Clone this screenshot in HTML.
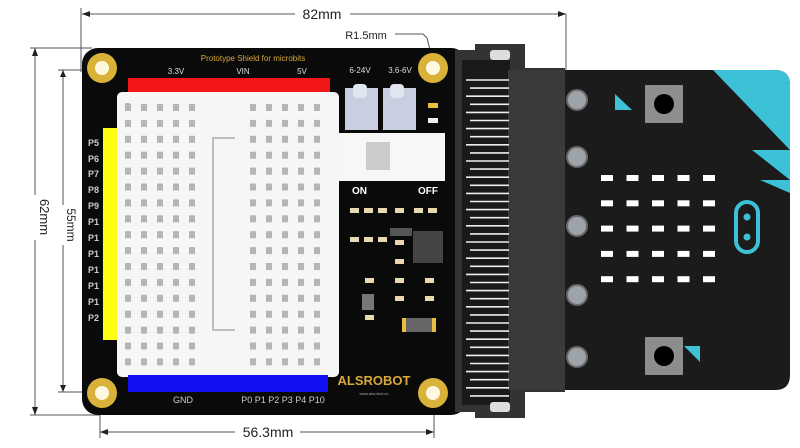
<!DOCTYPE html>
<html><head><meta charset="utf-8"><style>
html,body{margin:0;padding:0;background:#fff;}
svg{display:block;}
text{font-family:"Liberation Sans",sans-serif;}
</style></head><body>
<svg width="800" height="448" viewBox="0 0 800 448" xmlns="http://www.w3.org/2000/svg">
<!-- dimension lines -->
<g stroke="#555" stroke-width="1" fill="none">
<line x1="82" y1="14" x2="295" y2="14"/><line x1="350" y1="14" x2="566" y2="14"/>
<line x1="81" y1="8" x2="81" y2="72"/><line x1="566" y1="14" x2="566" y2="70"/>
<line x1="395" y1="34" x2="423" y2="34"/><polyline points="423,34 427,38 433,62"/>
<line x1="30" y1="48" x2="92" y2="48"/><line x1="30" y1="415" x2="100" y2="415"/>
<line x1="35" y1="48" x2="35" y2="195"/><line x1="35" y1="240" x2="35" y2="415"/>
<line x1="58" y1="70" x2="100" y2="70"/><line x1="58" y1="392" x2="100" y2="392"/>
<line x1="63" y1="70" x2="63" y2="205"/><line x1="63" y1="245" x2="63" y2="392"/>
<line x1="100" y1="415" x2="100" y2="438"/><line x1="434" y1="405" x2="434" y2="438"/>
<line x1="100" y1="432" x2="235" y2="432"/><line x1="300" y1="432" x2="434" y2="432"/>
</g>
<g fill="#222">
<polygon points="82,14 90,11 90,17"/><polygon points="566,14 558,11 558,17"/>
<polygon points="35,48 32,56 38,56"/><polygon points="35,415 32,407 38,407"/>
<polygon points="63,70 60,77 66,77"/><polygon points="63,392 60,385 66,385"/>
<polygon points="100,432 108,429 108,435"/><polygon points="434,432 426,429 426,435"/>
</g>
<text x="322" y="19" font-size="14" text-anchor="middle" fill="#222">82mm</text>
<text x="366" y="39" font-size="11" text-anchor="middle" fill="#222">R1.5mm</text>
<text x="268" y="437" font-size="14" text-anchor="middle" fill="#222">56.3mm</text>
<text transform="translate(40,217) rotate(90)" font-size="13" text-anchor="middle" fill="#222">62mm</text>
<text transform="translate(67,225) rotate(90)" font-size="12" text-anchor="middle" fill="#222">55mm</text>

<!-- shield board -->
<rect x="82" y="48" width="385" height="367" rx="16" fill="#0a0a0a"/>
<!-- mounting holes -->
<g>
<circle cx="102" cy="68" r="15" fill="#d9b23a"/><circle cx="102" cy="68" r="7" fill="#fff8e0"/>
<circle cx="433" cy="68" r="15" fill="#d9b23a"/><circle cx="433" cy="68" r="7" fill="#fff8e0"/>
<circle cx="102" cy="393" r="15" fill="#d9b23a"/><circle cx="102" cy="393" r="7" fill="#fff8e0"/>
<circle cx="433" cy="393" r="15" fill="#d9b23a"/><circle cx="433" cy="393" r="7" fill="#fff8e0"/>
</g>
<text x="253" y="61" font-size="8" text-anchor="middle" fill="#d9a93a">Prototype Shield for microbits</text>
<g font-size="8" fill="#ddd" text-anchor="middle"><text x="176" y="74">3.3V</text><text x="243" y="74">VIN</text><text x="302" y="74">5V</text></g>
<rect x="128" y="78" width="202" height="15" fill="#f21616"/>
<rect x="103" y="128" width="15" height="212" fill="#ffff10"/>
<g font-size="9" font-weight="bold" fill="#ccc">
<text x="88" y="146">P5</text><text x="88" y="162">P6</text><text x="88" y="177">P7</text><text x="88" y="193">P8</text><text x="88" y="209">P9</text><text x="88" y="225">P1</text><text x="88" y="241">P1</text><text x="88" y="257">P1</text><text x="88" y="273">P1</text><text x="88" y="289">P1</text><text x="88" y="305">P1</text><text x="88" y="321">P2</text>
</g>
<rect x="117" y="92" width="222" height="285" rx="5" fill="#f6f6f6"/>
<g fill="#b8b8b8">
<rect x="125" y="103" width="5" height="6"/>
</g>
<g id="holes" fill="#b5b5b5"></g>
<path d="M235,138 H213 V330 H235" stroke="#aaa" stroke-width="1.5" fill="none"/>
<rect x="128" y="375" width="200" height="17" fill="#1010f0"/>
<text x="183" y="403" font-size="9" fill="#ccc" text-anchor="middle">GND</text>
<text x="283" y="403" font-size="9" fill="#ccc" text-anchor="middle">P0 P1 P2 P3 P4 P10</text>
<!-- power connectors -->
<g font-size="8" fill="#ddd" text-anchor="middle"><text x="360" y="73">6-24V</text><text x="400" y="73">3.6-6V</text></g>
<rect x="345" y="88" width="33" height="42" fill="#c8cfe0"/><rect x="383" y="88" width="33" height="42" fill="#c8cfe0"/>
<rect x="353" y="84" width="14" height="14" rx="4" fill="#e0e5ef"/><rect x="390" y="84" width="14" height="14" rx="4" fill="#e0e5ef"/>
<rect x="428" y="103" width="10" height="5" fill="#e8c040"/><rect x="428" y="118" width="10" height="5" fill="#eee"/>
<rect x="338" y="133" width="107" height="48" fill="#f7f7f7"/>
<g fill="#ccc"><rect x="366" y="142" width="24" height="28"/></g>
<text x="352" y="194" font-size="10" font-weight="bold" fill="#fff">ON</text>
<text x="418" y="194" font-size="10" font-weight="bold" fill="#fff">OFF</text>
<g fill="#e8d9b0">
<rect x="350" y="208" width="9" height="5"/><rect x="364" y="208" width="9" height="5"/><rect x="378" y="208" width="9" height="5"/><rect x="395" y="208" width="9" height="5"/><rect x="414" y="208" width="9" height="5"/><rect x="428" y="208" width="9" height="5"/>
<rect x="350" y="237" width="9" height="5"/><rect x="364" y="237" width="9" height="5"/><rect x="378" y="237" width="9" height="5"/><rect x="395" y="240" width="9" height="5"/>
<rect x="395" y="259" width="9" height="5"/><rect x="365" y="278" width="9" height="5"/><rect x="395" y="278" width="9" height="5"/><rect x="425" y="278" width="9" height="5"/>
<rect x="395" y="296" width="9" height="5"/><rect x="425" y="296" width="9" height="5"/><rect x="365" y="315" width="9" height="5"/>
</g>
<rect x="390" y="228" width="22" height="8" fill="#555"/>
<rect x="413" y="231" width="30" height="32" fill="#444"/>
<rect x="362" y="294" width="12" height="16" fill="#777"/>
<rect x="402" y="318" width="34" height="14" fill="#666"/><rect x="402" y="318" width="4" height="14" fill="#e8c040"/><rect x="432" y="318" width="4" height="14" fill="#e8c040"/>
<text x="374" y="385" font-size="13" font-weight="bold" fill="#d9a93a" text-anchor="middle">ALSROBOT</text>
<text x="374" y="395" font-size="4" fill="#aaa" text-anchor="middle">www.alsrobot.cn</text>

<!-- micro:bit -->
<path d="M560,70 H775 Q790,70 790,85 V375 Q790,390 775,390 H560 Z" fill="#1b1b1b"/>
<path d="M713,70 H775 Q790,70 790,85 V150 Z" fill="#3cc1d6"/>
<path d="M752,150 L790,150 L790,180 Z" fill="#3cc1d6"/>
<path d="M760,180 L790,180 L790,193 Z" fill="#3cc1d6"/>
<g fill="#9ea3a9" stroke="#6a6a6a" stroke-width="2">
<circle cx="577" cy="100" r="10"/><circle cx="577" cy="157" r="10"/><circle cx="577" cy="226" r="10"/><circle cx="577" cy="295" r="10"/><circle cx="577" cy="357" r="10"/>
</g>
<rect x="645" y="85" width="38" height="38" fill="#8d8d8d"/><circle cx="664" cy="104" r="10" fill="#000"/>
<rect x="645" y="337" width="38" height="38" fill="#8d8d8d"/><circle cx="664" cy="356" r="10" fill="#000"/>
<polygon points="615,94 632,110 615,110" fill="#3cc1d6"/>
<polygon points="700,346 700,362 684,346" fill="#3cc1d6"/>
<g id="leds" fill="#fff"></g>
<rect x="736" y="202" width="22" height="50" rx="11" fill="none" stroke="#3cc1d6" stroke-width="4"/>
<circle cx="747" cy="217" r="3.5" fill="#3cc1d6"/><circle cx="747" cy="237" r="3.5" fill="#3cc1d6"/>

<!-- edge connector -->
<path d="M455,50 H475 V44 H525 V68 H565 V392 H525 V418 H475 V412 H455 Z" fill="#333"/>
<rect x="462" y="60" width="48" height="345" fill="#1a1a1a"/>
<rect x="508" y="70" width="57" height="320" fill="#3a3a3a"/>
<rect x="490" y="50" width="20" height="10" rx="3" fill="#ddd"/>
<rect x="490" y="402" width="20" height="10" rx="3" fill="#ddd"/>
<g id="comb" stroke="#eee" stroke-width="1.6"></g>
<script>
(function(){
var ns="http://www.w3.org/2000/svg";
var h=document.getElementById('holes');
var xs=[125,141,157,173,189,250,266,282,298,314];
for(var r=0;r<17;r++){for(var c=0;c<10;c++){var e=document.createElementNS(ns,'rect');
e.setAttribute('x',xs[c]);e.setAttribute('y',104+r*15.9);e.setAttribute('width',6);e.setAttribute('height',7);h.appendChild(e);}}
var l=document.getElementById('leds');
for(var r=0;r<5;r++)for(var c=0;c<5;c++){var e=document.createElementNS(ns,'rect');
e.setAttribute('x',601+c*25.5);e.setAttribute('y',175+r*25.3);e.setAttribute('width',12);e.setAttribute('height',6);l.appendChild(e);}
var g=document.getElementById('comb');
for(var i=0;i<40;i++){var y=80+i*8.1;var e=document.createElementNS(ns,'line');
e.setAttribute('x1',i%2?470:466);e.setAttribute('x2',509);e.setAttribute('y1',y);e.setAttribute('y2',y);g.appendChild(e);}
})();
</script>
</svg>
</body></html>
